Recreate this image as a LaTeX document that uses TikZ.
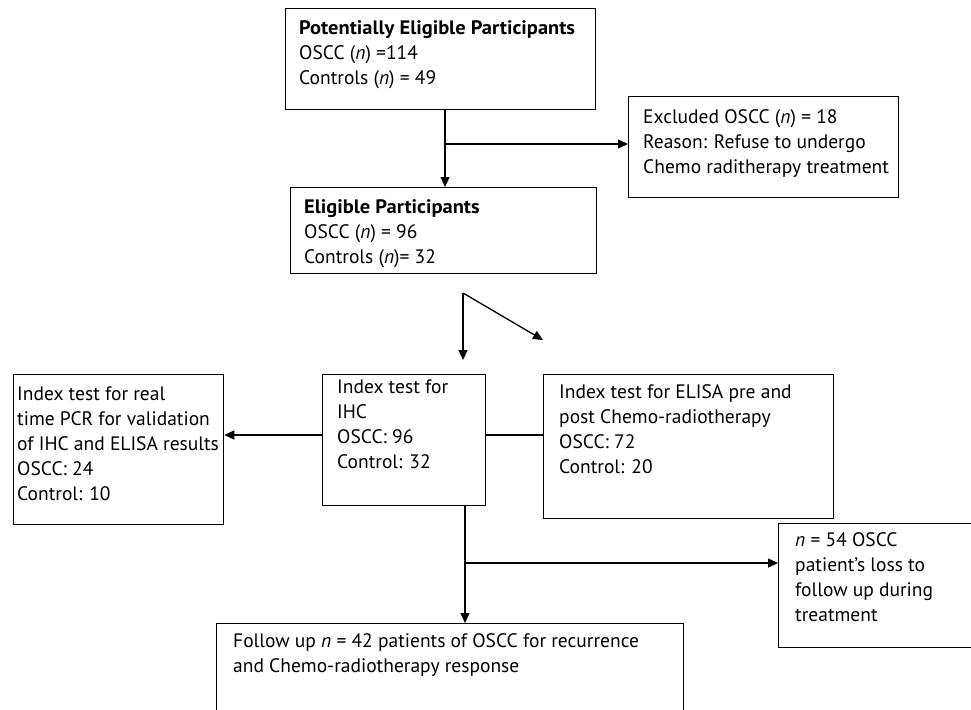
\documentclass[tikz,border=0pt]{standalone}
\usepackage{fontspec}
\setmainfont{PT Sans}[BoldFeatures={FakeStretch=1.05}]
\usetikzlibrary{arrows.meta,positioning}

\tikzset{
  box/.style={draw, line width=1.3pt, inner sep=0pt, anchor=north west},
  boxtext/.style={inner sep=0pt, anchor=north west, align=left,
    font=\fontsize{19.5}{25}\selectfont},
  link/.style={line width=1.3pt},
  arr/.style={link, -{Triangle[length=10pt,width=9pt]}},
}

\begin{document}
\begin{tikzpicture}[x=1pt, y=-1pt]
    % Page
    \clip (0,0) rectangle (971,709);
    \fill[white] (0,0) rectangle (971,709);

    % Boxes
    \node[box, minimum width=310pt, minimum height=101pt] (pot) at (285,8) {};
    \node[box, minimum width=270pt, minimum height=101pt] (excl) at (628,96) {};
    \node[box, minimum width=306pt, minimum height=86pt] (elig) at (290,187) {};
    \node[box, minimum width=210pt, minimum height=150pt] (pcr) at (13,374) {};
    \node[box, minimum width=163pt, minimum height=131pt] (ihc) at (322,374) {};
    \node[box, minimum width=290pt, minimum height=144pt] (elisa) at (543,374) {};
    \node[box, minimum width=250pt, minimum height=124pt] (loss) at (778,523) {};
    \node[box, minimum width=467pt, minimum height=120pt] (follow) at (216,623) {};

    % Texts
    \node[boxtext] (pottext) at (299,20) {\textbf{Potentially Eligible Participants}\\
      OSCC (\textit{n}) =114\\Controls (\textit{n}) = 49};
    \node[boxtext] (excltext) at (643,109) {Excluded OSCC (\textit{n}) = 18\\
      Reason: Refuse to undergo\\Chemo raditherapy treatment};
    \node[boxtext] (eligtext) at (304,199) {\textbf{Eligible Participants}\\
      OSCC (\textit{n}) = 96\\Controls (\textit{n})= 32};
    \node[boxtext] (pcrtext) at (17,387) {Index test for real\\time PCR for validation\\
      of IHC and ELISA results\\OSCC: 24\\Control: 10};
    \node[boxtext] (ihctext) at (337,380) {Index test for\\IHC\\OSCC: 96\\Control: 32};
    \node[boxtext] (elisatext) at (559,384) {Index test for ELISA pre and\\
      post Chemo-radiotherapy\\OSCC: 72\\Control: 20};
    \node[boxtext] (losstext) at (795,532) {\textit{n} = 54 OSCC\\patient’s loss to\\
      follow up during\\treatment};
    \node[boxtext] (followtext) at (233,633) {Follow up \textit{n} = 42 patients of OSCC for recurrence\\
      and Chemo-radiotherapy response};

    % Connector coordinates
    \coordinate (c1) at (445,0);
    \coordinate (br1) at (445,144);
    \coordinate (split) at (463,293);
    \coordinate (splitdown) at (463,360);
    \coordinate (splitdiag) at (543,340);
    \coordinate (mid) at (0,435);
    \coordinate (c2) at (465,0);
    \coordinate (br2) at (465,563);

    % Connectors
    \draw[arr] (pot.south -| c1) -- (elig.north -| c1);
    \draw[arr] (br1) -- (br1 -| excl.west);
    \draw[arr] (split) -- (splitdown);
    \draw[arr] (split) -- (splitdiag);
    \draw[arr] (ihc.west |- mid) -- (pcr.east |- mid);
    \draw[link] (ihc.east |- mid) -- (elisa.west |- mid);
    \draw[arr] (ihc.south -| c2) -- (follow.north -| c2);
    \draw[arr] (br2) -- (br2 -| loss.west);
\end{tikzpicture}
\end{document}
